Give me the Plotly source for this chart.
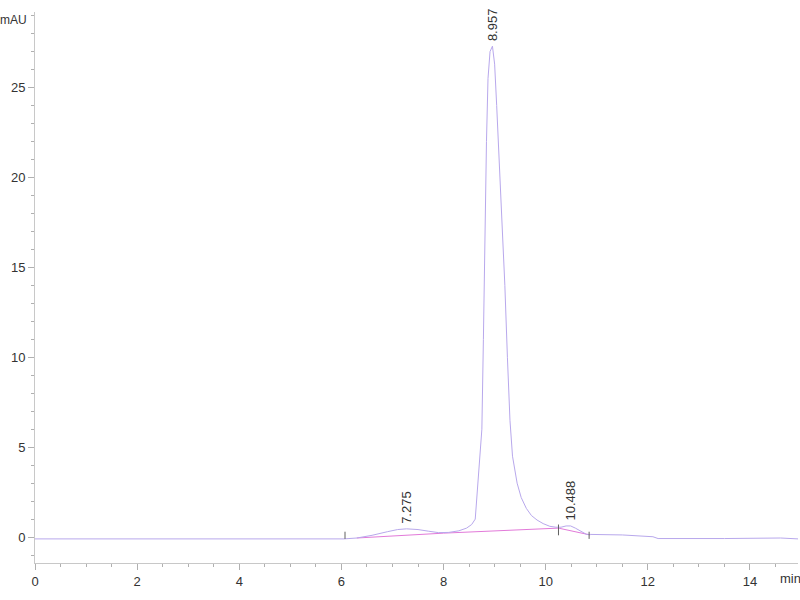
import plotly.graph_objects as go

# Chromatogram signal (time in min, absorbance in mAU)
time_min = [0, 3.0, 6.05, 6.3, 6.6, 6.9, 7.1, 7.275, 7.5, 7.7, 7.9, 8.1, 8.3, 8.45,
            8.55, 8.62, 8.66, 8.70, 8.75, 8.78, 8.81, 8.84, 8.87, 8.91, 8.957,
            9.0, 9.04, 9.08, 9.12, 9.16, 9.2, 9.25, 9.30, 9.35, 9.44, 9.52, 9.62,
            9.72, 9.83, 9.95, 10.08, 10.2, 10.3, 10.4, 10.488, 10.58, 10.7, 10.8,
            10.87, 11.5, 12.1, 12.2, 13.5, 14.4, 14.6, 14.94]
signal_mau = [-0.1, -0.1, -0.1, -0.05, 0.1, 0.3, 0.42, 0.46, 0.42, 0.33, 0.25, 0.26,
              0.35, 0.5, 0.7, 1.0, 2.5, 4.0, 6.0, 11.0, 17.0, 22.0, 25.5, 27.0, 27.3,
              26.3, 24.0, 21.5, 19.2, 17.0, 14.0, 10.0, 6.5, 4.5, 3.0, 2.2, 1.6,
              1.2, 0.95, 0.75, 0.6, 0.55, 0.55, 0.62, 0.62, 0.5, 0.3, 0.15,
              0.15, 0.12, 0.02, -0.08, -0.08, -0.08, -0.05, -0.1]

# Integration baseline
base_time = [6.3, 8.0, 10.25, 10.87]
base_mau = [-0.05, 0.22, 0.5, 0.12]

# Integration tick marks (time, low, high)
tick_time = [6.07, 10.25, 10.85]
tick_low = [-0.1, 0.1, -0.1]
tick_high = [0.3, 0.7, 0.3]

# Peak labels
peak_rt = [7.275, 8.957, 10.488]
peak_height = [0.46, 27.3, 0.62]
peak_text = ["7.275", "8.957", "10.488"]

x_ticks = [0, 2, 4, 6, 8, 10, 12, 14]
y_ticks = [0, 5, 10, 15, 20, 25]

fig = go.Figure()
fig.add_trace(go.Scatter(x=base_time, y=base_mau, mode="lines",
                         line=dict(color="#e27ad9", width=1), hoverinfo="skip"))
fig.add_trace(go.Scatter(x=time_min, y=signal_mau, mode="lines",
                         line=dict(color="#b8a8ec", width=1)))
tx, ty = [], []
for t, lo, hi in zip(tick_time, tick_low, tick_high):
    tx += [t, t, None]
    ty += [lo, hi, None]
fig.add_trace(go.Scatter(x=tx, y=ty, mode="lines",
                         line=dict(color="#606060", width=1), hoverinfo="skip"))

for rt, h, txt in zip(peak_rt, peak_height, peak_text):
    fig.add_annotation(x=rt, y=h, text=txt, showarrow=False, textangle=-90,
                       xanchor="center", yanchor="bottom", yshift=3,
                       font=dict(family="Liberation Sans, Arial", size=13, color="#333333"))

fig.add_annotation(xref="paper", yref="paper", x=0, y=1, text="mAU", showarrow=False,
                   xanchor="right", yanchor="middle", xshift=-6, yshift=-8,
                   font=dict(family="Liberation Sans, Arial", size=12, color="#333333"))
fig.add_annotation(xref="x", yref="paper", x=14.55, y=0, text="min", showarrow=False,
                   xanchor="left", yanchor="middle", yshift=-15,
                   font=dict(family="Liberation Sans, Arial", size=13, color="#333333"))

axis_font = dict(family="Liberation Sans, Arial", size=13, color="#333333")
fig.update_layout(
    width=800, height=600,
    margin=dict(l=35, r=2, t=12, b=37),
    paper_bgcolor="white", plot_bgcolor="white",
    showlegend=False,
    xaxis=dict(range=[0, 14.94], tickvals=x_ticks, ticks="outside", ticklen=6,
               tickcolor="#b0b0b0", showline=True, linecolor="#c8c8c8", linewidth=1,
               showgrid=False, zeroline=False, tickfont=axis_font, automargin=False,
               minor=dict(dtick=0.5, ticks="outside", ticklen=3, tickcolor="#b0b0b0")),
    yaxis=dict(range=[-1.44, 29.2], tickvals=y_ticks, ticks="outside", ticklen=6,
               tickcolor="#b0b0b0", showline=True, linecolor="#c8c8c8", linewidth=1,
               showgrid=False, zeroline=False, tickfont=axis_font, automargin=False,
               minor=dict(dtick=1, ticks="outside", ticklen=3, tickcolor="#b0b0b0")),
)

fig.write_html("out.html", config={"displayModeBar": False},
               post_script="document.body.style.margin='0';document.body.style.overflow='hidden';")
